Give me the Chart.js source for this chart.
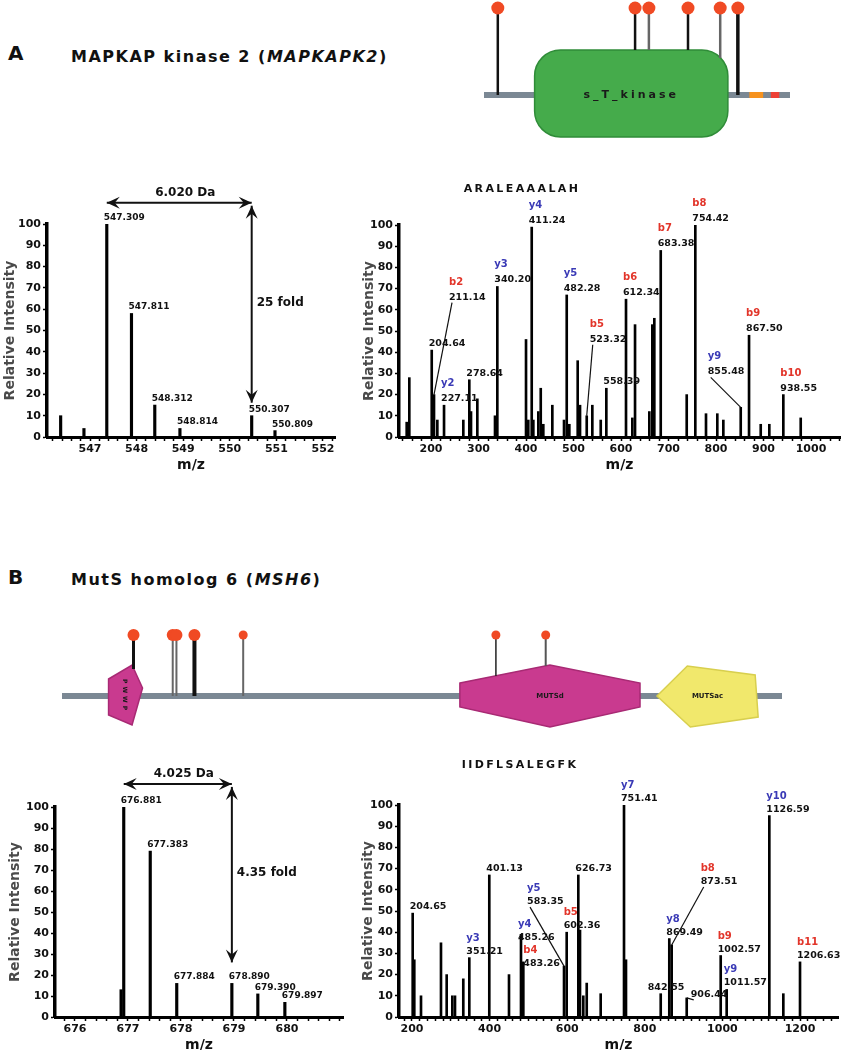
<!DOCTYPE html>
<html>
<head>
<meta charset="utf-8">
<title>MAPKAPK2 and MSH6 spectra</title>
<script src="https://cdn.jsdelivr.net/npm/chart.js@4.4.1/dist/chart.umd.min.js"></script>
<style>
  body { margin: 0; background: #fff; }
  #page { position: relative; width: 845px; height: 1050px; overflow: hidden; font-family: "DejaVu Sans", sans-serif; color: #111; }
  #page canvas { position: absolute; }
  .txt { position: absolute; font-weight: bold; white-space: nowrap; line-height: 1; }
  .letter { font-size: 20px; }
  .heading { font-size: 16px; letter-spacing: 1.5px; }
</style>
</head>
<body>
<div id="page">
  <div class="txt letter" style="left:8px;top:43px">A</div>
  <div class="txt heading" style="left:71px;top:49px">MAPKAP kinase 2 (<i>MAPKAPK2</i>)</div>
  <div class="txt letter" style="left:8px;top:567px">B</div>
  <div class="txt heading" style="left:71px;top:572px">MutS homolog 6 (<i>MSH6</i>)</div>
  <canvas id="mk2Map" width="306" height="145" style="left:484px;top:0"></canvas>
  <canvas id="aMs1" width="360" height="330" style="left:0;top:150px"></canvas>
  <canvas id="aMs2" width="485" height="330" style="left:360px;top:150px"></canvas>
  <canvas id="msh6Map" width="720" height="115" style="left:62px;top:620px"></canvas>
  <canvas id="bMs1" width="360" height="330" style="left:0;top:730px"></canvas>
  <canvas id="bMs2" width="485" height="330" style="left:360px;top:730px"></canvas>
</div>
<script>
// ---------- panel A : MAPKAPK2 ----------
const mk2Length = 400;
const mk2Sites = [19, 198, 216, 267, 309, 332];
const mk2Domains = ["s_T_kinase"];
const mk2DomainStart = [67];
const mk2DomainEnd = [319];
const mk2MotifStart = [347, 375];
const mk2MotifEnd = [365, 386];

// precursor isotope cluster (light / heavy)
const aMs1Mz = [546.37, 546.87, 547.36, 547.89, 548.39, 548.93, 550.47, 550.97];
const aMs1Intensity = [10, 4, 100, 58, 15, 4, 10, 3];
const aMs1LabelPeaks = [547.36, 547.89, 548.39, 548.93, 550.47, 550.97];
const aMs1LabelText = ["547.309", "547.811", "548.312", "548.814", "550.307", "550.809"];
const aMs1Ticks = [547, 548, 549, 550, 551, 552];

// MS/MS of ARALEAAALAH
const aMs2Mz = [148.8, 154.3, 201.5, 206.3, 213.3, 227.4, 268, 280.6, 284.2, 297.5,
  334.7, 339.6, 400, 404.8, 412, 415.4, 425.9, 431, 436.4, 455.4,
  480, 485.7, 491.2, 508.8, 513.7, 527.8, 539.6, 557.3, 569.1, 610.5,
  623.8, 629.5, 659.6, 665.9, 670.1, 683.6, 738.3, 756.4, 778.9, 802.7,
  815.4, 852, 869.5, 894.1, 912.2, 941.7, 978.3];
const aMs2Intensity = [7, 28, 41, 20, 8, 15, 8, 27, 12, 18,
  10, 71, 46, 8, 99, 8, 12, 23, 6, 15,
  8, 67, 6, 36, 15, 10, 15, 8, 23, 65,
  9, 53, 12, 53, 56, 88, 20, 100, 11, 11,
  8, 14, 48, 6, 6, 20, 9];
const aMs2LabelPeaks = [201.5, 206.3, 227.4, 280.6, 339.6, 412, 485.7, 527.8, 569.1, 610.5, 683.6, 756.4, 852, 869.5, 941.7];
const aMs2LabelText = ["204.64", "211.14", "227.11", "278.64", "340.20", "411.24", "482.28", "523.32", "558.39", "612.34", "683.38", "754.42", "855.48", "867.50", "938.55"];
const aMs2LabelIons = ["", "b2", "y2", "", "y3", "y4", "y5", "b5", "", "b6", "b7", "b8", "y9", "b9", "b10"];
const aMs2Ticks = [200, 300, 400, 500, 600, 700, 800, 900, 1000];

// ---------- panel B : MSH6 ----------
const msh6Length = 1360;
const msh6Sites = [136, 210, 217, 251, 343, 820, 914];
const msh6Domains = ["PWWP", "MUTSd", "MUTSac"];
const msh6DomainStart = [87, 752, 1124];
const msh6DomainEnd = [153, 1092, 1315];

const bMs1Mz = [676.87, 676.92, 677.42, 677.92, 678.96, 679.45, 679.96];
const bMs1Intensity = [13, 100, 79, 16, 16, 11, 7];
const bMs1LabelPeaks = [676.92, 677.42, 677.92, 678.96, 679.45, 679.96];
const bMs1LabelText = ["676.881", "677.383", "677.884", "678.890", "679.390", "679.897"];
const bMs1Ticks = [676, 677, 678, 679, 680];

// MS/MS of IIDFLSALEGFK
const bMs2Mz = [201.8, 205.9, 223.2, 274.7, 289.4, 303.9, 310.8, 332.2, 347.7, 399.2,
  450, 480.9, 486.9, 591.8, 598.7, 628.6, 633, 641.5, 650.3, 686.3,
  746.4, 751.5, 841, 863.1, 869.3, 908, 995.6, 1011, 1120.9, 1157, 1200];
const bMs2Intensity = [49, 27, 10, 35, 20, 10, 10, 18, 28, 67,
  20, 39, 26, 24, 40, 67, 41, 10, 16, 11,
  100, 27, 11, 37, 34, 9, 29, 13, 95, 11, 26];
const bMs2LabelPeaks = [201.8, 347.7, 399.2, 480.9, 486.9, 591.8, 598.7, 628.6, 746.4, 841, 863.1, 869.3, 908, 995.6, 1011, 1120.9, 1200];
const bMs2LabelText = ["204.65", "351.21", "401.13", "485.26", "483.26", "583.35", "602.36", "626.73", "751.41", "842.55", "869.49", "873.51", "906.44", "1002.57", "1011.57", "1126.59", "1206.63"];
const bMs2LabelIons = ["", "y3", "", "y4", "b4", "y5", "b5", "", "y7", "", "y8", "b8", "", "b9", "y9", "y10", "b11"];
const bMs2Ticks = [200, 400, 600, 800, 1000, 1200];

//----------------------------------------------------

const FONT = '"DejaVu Sans", "Liberation Sans", sans-serif';
const INK = "#111";
const ION_COLORS = { b: "#e2352a", y: "#3a3ab6" };
const BACKBONE = "#7b8894";
const HEAD = "#f04a24";

Chart.defaults.font.family = FONT;

const bold = (size) => `bold ${size}px ${FONT}`;

function arrowHead(ctx, x, y, angle) {
  ctx.save();
  ctx.translate(x, y);
  ctx.rotate(angle);
  ctx.beginPath();
  ctx.moveTo(0, 0);
  ctx.lineTo(-13, -6);
  ctx.lineTo(-8, 0);
  ctx.lineTo(-13, 6);
  ctx.closePath();
  ctx.fill();
  ctx.restore();
}

function doubleArrow(ctx, x1, y1, x2, y2) {
  const a = Math.atan2(y2 - y1, x2 - x1);
  ctx.beginPath();
  ctx.moveTo(x1, y1);
  ctx.lineTo(x2, y2);
  ctx.stroke();
  arrowHead(ctx, x2, y2, a);
  arrowHead(ctx, x1, y1, a + Math.PI);
}

// peak labels, leader lines, peptide title and SILAC arrows
function spectrumAnnotations(spec) {
  return {
    id: "spectrumAnnotations",
    afterDatasetsDraw(chart) {
      const { ctx, chartArea, scales: { x, y } } = chart;
      ctx.save();
      ctx.textAlign = "left";
      ctx.textBaseline = "alphabetic";
      spec.labelPeaks.forEach((m, i) => {
        const text = spec.labelText[i];
        const px = x.getPixelForValue(m);
        const py = y.getPixelForValue(spec.intensity[spec.mz.indexOf(m)]);
        const shift = spec.labelShift[text];
        const lx = px + (shift ? shift[0] : -3);
        const ly = py + (shift ? shift[1] : -4);
        if (shift && shift[2]) {
          ctx.strokeStyle = INK;
          ctx.lineWidth = 1.2;
          ctx.beginPath();
          ctx.moveTo(lx + 3, ly + 3);
          ctx.lineTo(px, py);
          ctx.stroke();
        }
        ctx.font = bold(spec.mzSize);
        ctx.fillStyle = INK;
        ctx.fillText(text, lx, ly);
        const ion = spec.labelIons ? spec.labelIons[i] : "";
        if (ion) {
          ctx.font = bold(10);
          ctx.fillStyle = ION_COLORS[ion[0]];
          ctx.fillText(ion, lx, ly - spec.ionGap);
        }
      });

      if (spec.peptide) {
        ctx.font = bold(11);
        ctx.letterSpacing = "2.4px";
        ctx.fillStyle = INK;
        ctx.textAlign = "center";
        ctx.fillText(spec.peptide, chartArea.left + spec.peptidePos[0], chartArea.top + spec.peptidePos[1]);
        ctx.letterSpacing = "0px";
      }

      if (spec.shift) {
        const s = spec.shift;
        const xl = x.getPixelForValue(spec.mz[s.light]);
        const xh = x.getPixelForValue(spec.mz[s.heavy]);
        const ya = y.getPixelForValue(s.level);
        const yb = y.getPixelForValue(spec.intensity[s.heavy]) - s.gap;
        ctx.strokeStyle = INK;
        ctx.fillStyle = INK;
        ctx.lineWidth = 2;
        doubleArrow(ctx, xl, ya, xh, ya);
        doubleArrow(ctx, xh, ya + 3, xh, yb);
        ctx.font = bold(12);
        ctx.textAlign = "center";
        ctx.fillText(s.delta, (xl + xh) / 2 + 6, ya - 7);
        ctx.textAlign = "left";
        ctx.textBaseline = "middle";
        ctx.fillText(s.fold, xh + 5, (ya + yb) / 2);
      }
      ctx.restore();
    },
  };
}

function spectrumChart(canvasId, spec) {
  const minorTicks = [];
  for (let v = Math.ceil(spec.xMin / spec.minorStep) * spec.minorStep; v <= spec.xMax; v += spec.minorStep) {
    minorTicks.push(Math.round(v * 1000) / 1000);
  }
  const tickFont = { family: FONT, size: 11, weight: "bold" };
  const titleFont = { family: FONT, size: 14, weight: "bold" };
  return new Chart(document.getElementById(canvasId), {
    type: "bar",
    data: {
      datasets: [{
        data: spec.mz.map((m, i) => ({ x: m, y: spec.intensity[i] })),
        backgroundColor: "#000",
        barThickness: spec.barWidth,
      }],
    },
    options: {
      responsive: false,
      animation: false,
      devicePixelRatio: 1,
      events: [],
      layout: { autoPadding: false, padding: { top: spec.padTop, right: spec.padRight, left: 0, bottom: 0 } },
      plugins: { legend: { display: false }, tooltip: { enabled: false } },
      scales: {
        x: {
          type: "linear",
          min: spec.xMin,
          max: spec.xMax,
          offset: false,
          afterBuildTicks: (axis) => { axis.ticks = minorTicks.map((v) => ({ value: v })); },
          afterFit: (axis) => { axis.height = 43; },
          ticks: {
            autoSkip: false, maxRotation: 0, padding: 2, color: INK, font: tickFont,
            callback: (v) => (spec.ticks.includes(v) ? String(v) : ""),
          },
          grid: { offset: false, drawOnChartArea: false, tickLength: 4, tickColor: "#000", tickWidth: 1.5 },
          border: { color: "#000", width: 3 },
          title: { display: true, text: "m/z", color: INK, font: titleFont, padding: { top: 0, bottom: 6.6 } },
        },
        y: {
          min: 0,
          max: 100,
          afterFit: (axis) => { axis.width = spec.yAxisWidth; },
          ticks: { stepSize: 10, padding: 2, color: INK, font: tickFont },
          grid: { drawOnChartArea: false, tickLength: 4, tickColor: "#000", tickWidth: 1.5 },
          border: { color: "#000", width: 3.5 },
          title: { display: true, text: "Relative Intensity", color: "#4a4a4a", font: titleFont, padding: { top: spec.yTitlePad, bottom: 0 } },
        },
      },
    },
    plugins: [spectrumAnnotations(spec)],
  });
}

// ---------- protein domain maps ----------
function polygon(path, pts) {
  path.moveTo(pts[0][0], pts[0][1]);
  pts.slice(1).forEach((p) => path.lineTo(p[0], p[1]));
  path.closePath();
}

const DOMAIN_SHAPES = {
  rounded(path, x0, x1, yl) {
    const t = yl - 45, b = yl + 42, r = 26;
    path.moveTo(x0 + r, t);
    path.arcTo(x1, t, x1, b, r);
    path.arcTo(x1, b, x0, b, r);
    path.arcTo(x0, b, x0, t, r);
    path.arcTo(x0, t, x1, t, r);
    path.closePath();
  },
  wedge(path, x0, x1, yl) {
    const w = x1 - x0;
    polygon(path, [[x0 + 1, yl - 17], [x0 + 0.7 * w, yl - 31], [x1, yl - 8], [x0 + 0.7 * w, yl + 29], [x0 + 1, yl + 19]]);
  },
  hexagon(path, x0, x1, yl) {
    const mid = (x0 + x1) / 2;
    polygon(path, [[x0, yl - 13], [mid, yl - 31], [x1, yl - 13], [x1, yl + 11], [mid, yl + 31], [x0, yl + 11]]);
  },
  pentagon(path, x0, x1, yl) {
    const w = x1 - x0;
    polygon(path, [[x0, yl], [x0 + 0.3 * w, yl - 30], [x1 - 3, yl - 21], [x1, yl + 21], [x0 + 0.33 * w, yl + 31]]);
  },
};

function proteinMap(p) {
  return {
    id: "proteinMap",
    beforeDatasetsDraw(chart) {
      const { ctx, scales: { x, y } } = chart;
      const yl = y.getPixelForValue(0);
      const yh = y.getPixelForValue(1);
      ctx.save();
      ctx.lineWidth = 6;
      ctx.strokeStyle = BACKBONE;
      ctx.beginPath();
      ctx.moveTo(x.getPixelForValue(1), yl);
      ctx.lineTo(x.getPixelForValue(p.length), yl);
      ctx.stroke();

      (p.motifStart || []).forEach((s, i) => {
        ctx.strokeStyle = p.motifColors[i];
        ctx.beginPath();
        ctx.moveTo(x.getPixelForValue(s), yl);
        ctx.lineTo(x.getPixelForValue(p.motifEnd[i]), yl);
        ctx.stroke();
      });

      const paths = p.domains.map((name, i) => {
        const x0 = x.getPixelForValue(p.start[i]);
        const x1 = x.getPixelForValue(p.end[i]);
        const path = new Path2D();
        DOMAIN_SHAPES[p.shapes[i]](path, x0, x1, yl);
        ctx.fillStyle = p.fills[i];
        ctx.strokeStyle = p.edges[i];
        ctx.lineWidth = 1.5;
        ctx.fill(path);
        ctx.stroke(path);
        ctx.save();
        ctx.translate((x0 + x1) / 2, yl);
        if (p.vertical[i]) ctx.rotate(Math.PI / 2);
        ctx.font = bold(p.textSize[i]);
        ctx.letterSpacing = p.textSpacing[i];
        ctx.fillStyle = "#1a1a1a";
        ctx.textAlign = "center";
        ctx.textBaseline = "middle";
        ctx.fillText(name, 0, 0);
        ctx.restore();
        return path;
      });

      p.sites.forEach((s, i) => {
        const px = x.getPixelForValue(s);
        let base = yl;
        paths.forEach((path) => {
          for (let yy = yh; yy < base; yy++) {
            if (ctx.isPointInPath(path, px, yy)) { base = yy; break; }
          }
        });
        ctx.strokeStyle = p.stemColors[i];
        ctx.lineWidth = p.stemWidths[i];
        ctx.beginPath();
        ctx.moveTo(px, yh);
        ctx.lineTo(px, base);
        ctx.stroke();
      });
      ctx.restore();
    },
  };
}

function proteinChart(canvasId, p) {
  return new Chart(document.getElementById(canvasId), {
    type: "scatter",
    data: {
      datasets: [{
        data: p.sites.map((s) => ({ x: s, y: 1 })),
        pointRadius: p.headRadius,
        pointBackgroundColor: HEAD,
        pointBorderWidth: 0,
        clip: false,
      }],
    },
    options: {
      responsive: false,
      animation: false,
      devicePixelRatio: 1,
      events: [],
      layout: { autoPadding: false, padding: 0 },
      plugins: { legend: { display: false }, tooltip: { enabled: false } },
      scales: {
        x: { type: "linear", display: false, min: 1, max: p.length },
        y: { display: false, min: p.yMin, max: p.yMax },
      },
    },
    plugins: [proteinMap(p)],
  });
}

proteinChart("mk2Map", {
  length: mk2Length, sites: mk2Sites, domains: mk2Domains, start: mk2DomainStart, end: mk2DomainEnd,
  motifStart: mk2MotifStart, motifEnd: mk2MotifEnd, motifColors: ["#f6921e", "#ee4036"],
  shapes: ["rounded"], fills: ["#45ab4b"], edges: ["#2f8c38"], vertical: [false], textSize: [11], textSpacing: ["3px"],
  stemColors: ["#111", "#111", "#666", "#111", "#666", "#111"], stemWidths: [2.5, 2.5, 2.5, 2.5, 2.5, 3.5],
  headRadius: 6.5, yMin: -0.575, yMax: 1.092,
});

proteinChart("msh6Map", {
  length: msh6Length, sites: msh6Sites, domains: msh6Domains, start: msh6DomainStart, end: msh6DomainEnd,
  shapes: ["wedge", "hexagon", "pentagon"], fills: ["#c93a8f", "#c93a8f", "#f1e86c"], edges: ["#a82a74", "#a82a74", "#d8cf4e"],
  vertical: [true, false, false], textSize: [6, 7, 7], textSpacing: ["3px", "0px", "0px"],
  stemColors: ["#111", "#666", "#666", "#111", "#666", "#222", "#555"], stemWidths: [3, 2, 2, 4, 2, 1.5, 2],
  headRadius: [6, 6, 6, 6, 4.5, 4.5, 4.5], yMin: -0.639, yMax: 1.246,
});

spectrumChart("aMs1", {
  mz: aMs1Mz, intensity: aMs1Intensity, labelPeaks: aMs1LabelPeaks, labelText: aMs1LabelText, labelShift: {},
  ticks: aMs1Ticks, xMin: 546.077, xMax: 552.258, minorStep: 0.2, mzSize: 9, barWidth: 2.5,
  padTop: 74, padRight: 25, yAxisWidth: 47, yTitlePad: 2,
  shift: { light: 2, heavy: 6, level: 110, gap: 13, delta: "6.020 Da", fold: "25 fold" },
});

spectrumChart("aMs2", {
  mz: aMs2Mz, intensity: aMs2Intensity, labelPeaks: aMs2LabelPeaks, labelText: aMs2LabelText, labelIons: aMs2LabelIons,
  labelShift: { "211.14": [15, -95, true], "523.32": [3, -74, true], "855.48": [-33, -33, true] },
  ticks: aMs2Ticks, xMin: 132.6, xMax: 1061, minorStep: 20, mzSize: 9.5, ionGap: 15, barWidth: 2,
  padTop: 75, padRight: 5, yAxisWidth: 39, yTitlePad: 1,
  peptide: "ARALEAAALAH", peptidePos: [123, -33],
});

spectrumChart("bMs1", {
  mz: bMs1Mz, intensity: bMs1Intensity, labelPeaks: bMs1LabelPeaks, labelText: bMs1LabelText, labelShift: {},
  ticks: bMs1Ticks, xMin: 675.623, xMax: 681.057, minorStep: 0.2, mzSize: 9, barWidth: 2.5,
  padTop: 77, padRight: 17, yAxisWidth: 55, yTitlePad: 7,
  shift: { light: 1, heavy: 4, level: 111, gap: 21, delta: "4.025 Da", fold: "4.35 fold" },
});

spectrumChart("bMs2", {
  mz: bMs2Mz, intensity: bMs2Intensity, labelPeaks: bMs2LabelPeaks, labelText: bMs2LabelText, labelIons: bMs2LabelIons,
  labelShift: {
    "583.35": [-37, -62, true], "873.51": [29, -61, true], "906.44": [4, -1, true],
    "842.55": [-13, -4, false], "485.26": [-3, 6, false], "483.26": [0, 4, false],
  },
  ticks: bMs2Ticks, xMin: 166.5, xMax: 1297.9, minorStep: 20, mzSize: 9.5, ionGap: 13, barWidth: 2,
  padTop: 75, padRight: 7, yAxisWidth: 39, yTitlePad: 0,
  peptide: "IIDFLSALEGFK", peptidePos: [121, -37],
});
</script>
</body>
</html>
